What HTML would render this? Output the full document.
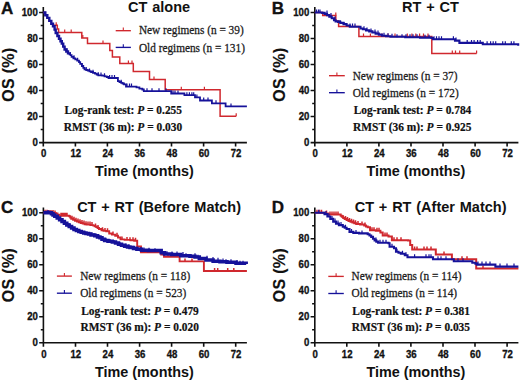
<!DOCTYPE html>
<html><head><meta charset="utf-8"><style>
html,body{margin:0;padding:0;background:#fff;width:520px;height:381px;overflow:hidden}
svg{display:block}
text{font-family:"Liberation Sans",sans-serif;fill:#111}
.tl{font-size:9.6px;font-weight:bold;stroke:#111;stroke-width:0.3px}
.at{font-size:14.4px;font-weight:bold}
.ot{font-size:16px;font-weight:bold;letter-spacing:0.3px;stroke:#111;stroke-width:0.15px}
.pl{font-size:17px;font-weight:bold;stroke:#111;stroke-width:0.35px}
.ti{font-weight:bold;word-spacing:0.8px}
.lg{font-family:"Liberation Serif",serif;font-size:11.3px;fill:#1a1a1a;stroke:#1a1a1a;stroke-width:0.25px}
.st{font-family:"Liberation Serif",serif;font-size:11.4px;font-weight:bold;stroke:#111;stroke-width:0.2px}
</style></head><body>
<svg width="520" height="381" viewBox="0 0 520 381">
<rect width="520" height="381" fill="#fff"/>
<path d="M43.3 7.1 V146.6 M42.6 142.6 H246.9 M39.1 142.6 H43.3 M40.7 129.5 H43.3 M39.1 116.5 H43.3 M40.7 103.5 H43.3 M39.1 90.5 H43.3 M40.7 77.5 H43.3 M39.1 64.5 H43.3 M40.7 51.5 H43.3 M39.1 38.5 H43.3 M40.7 25.5 H43.3 M39.1 12.5 H43.3 M75.4 142.6 V146.6 M107.4 142.6 V146.6 M139.5 142.6 V146.6 M171.5 142.6 V146.6 M203.6 142.6 V146.6 M235.6 142.6 V146.6" stroke="#111" stroke-width="1.6" fill="none"/>
<text transform="translate(37.80 145.80) scale(1 1.080)" class="tl" text-anchor="end">0</text>
<text transform="translate(37.80 119.79) scale(1 1.080)" class="tl" text-anchor="end">20</text>
<text transform="translate(37.80 93.78) scale(1 1.080)" class="tl" text-anchor="end">40</text>
<text transform="translate(37.80 67.77) scale(1 1.080)" class="tl" text-anchor="end">60</text>
<text transform="translate(37.80 41.76) scale(1 1.080)" class="tl" text-anchor="end">80</text>
<text transform="translate(37.80 15.75) scale(1 1.080)" class="tl" text-anchor="end">100</text>
<text transform="translate(43.70 157.45) scale(1 1.080)" class="tl" text-anchor="middle">0</text>
<text transform="translate(75.75 157.45) scale(1 1.080)" class="tl" text-anchor="middle">12</text>
<text transform="translate(107.80 157.45) scale(1 1.080)" class="tl" text-anchor="middle">24</text>
<text transform="translate(139.86 157.45) scale(1 1.080)" class="tl" text-anchor="middle">36</text>
<text transform="translate(171.91 157.45) scale(1 1.080)" class="tl" text-anchor="middle">48</text>
<text transform="translate(203.96 157.45) scale(1 1.080)" class="tl" text-anchor="middle">60</text>
<text transform="translate(236.01 157.45) scale(1 1.080)" class="tl" text-anchor="middle">72</text>
<text x="144.4" y="175.9" class="at" text-anchor="middle">Time (months)</text>
<text class="ot" text-anchor="middle" transform="translate(13.5 74.6) rotate(-90)">OS (%)</text>
<text transform="translate(0.90 13.80) scale(1 1.020)" class="pl">A</text>
<text x="159.1" y="11.5" class="ti" text-anchor="middle" font-size="14.50">CT alone</text>
<path d="M43.3 12.5H45.3 V15.2H47.3 V17.9H49.3 V20.9H51.3 V23.7H53.0 V25.3H56.9 V25.3H57.3 V29.0H58.6 V32.5H81.8 V38.0H87.5 V43.6H109.8 V50.6H112.4 V57.0H119.8 V63.4H133.3 V71.6H149.5 V79.4H165.2 V89.7H220.1 V116.2H236.2 V116.2" stroke="#d0282e" stroke-width="1.50" fill="none" stroke-linejoin="miter"/>
<path d="M56.2 25.3 V22.3 M82.8 38.0 V35.0 M64.7 32.5 V29.5 M71.2 32.5 V29.5 M103.0 43.6 V40.6 M128.4 63.4 V60.4 M132.0 63.4 V60.4 M154.0 79.4 V76.4 M181.3 89.7 V86.7 M204.4 89.7 V86.7 M236.2 116.2 V113.2 " stroke="#d0282e" stroke-width="1.20" fill="none"/>
<path d="M43.3 12.5H45.3 V15.2H47.3 V17.9H49.3 V20.9H51.3 V23.7H53.0 V26.2H54.6 V29.6H55.7 V33.0H57.4 V36.0H59.0 V38.8H60.5 V41.2H61.8 V43.6H63.2 V46.6H64.6 V49.5H66.3 V51.5H68.0 V53.4H69.8 V55.2" stroke="#16129a" stroke-width="2.40" fill="none" stroke-linejoin="miter"/>
<path d="M69.8 55.2H71.6 V56.8H73.4 V58.3H75.3 V59.4H77.2 V60.7H79.0 V62.2H80.2 V63.9H81.9 V66.0H83.3 V67.8H84.5 V69.4H86.2 V70.0H87.8 V70.7H89.5 V71.4H91.1 V72.0H93.0 V72.8H95.0 V73.7H96.7 V74.5H98.3 V75.3H102.2 V75.6H104.5 V76.3H106.8 V77.0H108.5 V78.0H117.4 V78.0H117.9 V81.2H119.5 V82.0H121.2 V82.8H122.6 V83.5H124.0 V84.3H126.0 V86.6H133.7 V86.6H136.5 V87.3H139.4 V88.6H142.3 V89.5H143.8 V91.2H171.2 V91.2H171.2 V93.5H184.4 V93.5H184.4 V95.2H195.0 V95.2H195.0 V97.4H200.0 V97.4H200.0 V100.5H211.9 V100.5H211.9 V103.3H225.6 V103.3H225.6 V106.4H246.9 V106.4" stroke="#16129a" stroke-width="1.80" fill="none" stroke-linejoin="miter"/>
<path d="M67.0 51.3 V48.3 M70.4 55.2 V52.2 M74.0 58.3 V55.3 M77.6 60.7 V57.7 M81.9 66.0 V63.0 M86.2 70.0 V67.0 M89.5 71.4 V68.4 M93.0 72.8 V69.8 M98.3 75.3 V72.3 M101.0 75.6 V72.6 M104.5 76.3 V73.3 M109.6 78.0 V75.0 M112.0 78.0 V75.0 M114.5 78.0 V75.0 M121.2 82.8 V79.8 M127.0 86.6 V83.6 M129.5 86.6 V83.6 M131.5 86.6 V83.6 M147.0 91.2 V88.2 M152.0 91.2 V88.2 M159.0 91.2 V88.2 M166.0 91.2 V88.2 M173.0 93.5 V90.5 M175.0 93.5 V90.5 M178.0 93.5 V90.5 M186.9 95.2 V92.2 M189.4 95.2 V92.2 M191.9 95.2 V92.2 M193.7 95.2 V92.2 M196.9 97.4 V94.4 M203.7 100.5 V97.5 M208.0 100.5 V97.5 M216.0 103.3 V100.3 M231.0 106.4 V103.4 " stroke="#16129a" stroke-width="1.20" fill="none"/>
<path d="M115.7 30.7 H130.9" stroke="#d0282e" stroke-width="1.35" fill="none"/><path d="M123.3 30.7 V27.5" stroke="#d0282e" stroke-width="1.1" fill="none"/>
<text transform="translate(138.90 34.40) scale(1 1.060)" class="lg">New regimens (n = 39)</text>
<path d="M115.7 47.4 H130.9" stroke="#16129a" stroke-width="1.35" fill="none"/><path d="M123.3 47.4 V44.2" stroke="#16129a" stroke-width="1.1" fill="none"/>
<text transform="translate(138.90 51.50) scale(1 1.060)" class="lg">Old regimens (n = 131)</text>
<text transform="translate(64.40 113.75) scale(1 1.070)" class="st">Log-rank test: <tspan font-style="italic">P</tspan> = 0.255</text>
<text transform="translate(63.80 130.60) scale(1 1.070)" class="st">RMST (36 m): <tspan font-style="italic">P</tspan> = 0.030</text>
<path d="M314.8 7.1 V146.6 M314.1 142.6 H518.4 M310.6 142.6 H314.8 M312.2 129.5 H314.8 M310.6 116.5 H314.8 M312.2 103.5 H314.8 M310.6 90.5 H314.8 M312.2 77.5 H314.8 M310.6 64.5 H314.8 M312.2 51.5 H314.8 M310.6 38.5 H314.8 M312.2 25.5 H314.8 M310.6 12.5 H314.8 M346.9 142.6 V146.6 M378.9 142.6 V146.6 M411.0 142.6 V146.6 M443.0 142.6 V146.6 M475.1 142.6 V146.6 M507.1 142.6 V146.6" stroke="#111" stroke-width="1.6" fill="none"/>
<text transform="translate(309.30 145.80) scale(1 1.080)" class="tl" text-anchor="end">0</text>
<text transform="translate(309.30 119.79) scale(1 1.080)" class="tl" text-anchor="end">20</text>
<text transform="translate(309.30 93.78) scale(1 1.080)" class="tl" text-anchor="end">40</text>
<text transform="translate(309.30 67.77) scale(1 1.080)" class="tl" text-anchor="end">60</text>
<text transform="translate(309.30 41.76) scale(1 1.080)" class="tl" text-anchor="end">80</text>
<text transform="translate(309.30 15.75) scale(1 1.080)" class="tl" text-anchor="end">100</text>
<text transform="translate(315.20 157.45) scale(1 1.080)" class="tl" text-anchor="middle">0</text>
<text transform="translate(347.25 157.45) scale(1 1.080)" class="tl" text-anchor="middle">12</text>
<text transform="translate(379.30 157.45) scale(1 1.080)" class="tl" text-anchor="middle">24</text>
<text transform="translate(411.36 157.45) scale(1 1.080)" class="tl" text-anchor="middle">36</text>
<text transform="translate(443.41 157.45) scale(1 1.080)" class="tl" text-anchor="middle">48</text>
<text transform="translate(475.46 157.45) scale(1 1.080)" class="tl" text-anchor="middle">60</text>
<text transform="translate(507.51 157.45) scale(1 1.080)" class="tl" text-anchor="middle">72</text>
<text x="415.9" y="175.9" class="at" text-anchor="middle">Time (months)</text>
<text class="ot" text-anchor="middle" transform="translate(285.0 74.6) rotate(-90)">OS (%)</text>
<text transform="translate(271.80 13.80) scale(1 1.020)" class="pl">B</text>
<text x="430.4" y="12.0" class="ti" text-anchor="middle" font-size="14.50">RT + CT</text>
<path d="M314.8 12.5H322.7 V15.6H335.8 V21.0H338.6 V26.4H358.9 V36.4H431.8 V53.4H476.6 V53.4" stroke="#d0282e" stroke-width="1.50" fill="none" stroke-linejoin="miter"/>
<path d="M335.8 15.6 V12.6 M363.5 36.5 V33.5 M370.4 36.5 V33.5 M381.9 36.5 V33.5 M388.0 36.5 V33.5 M395.0 36.5 V33.5 M407.3 36.5 V33.5 M411.9 36.5 V33.5 M415.8 36.5 V33.5 M419.6 36.5 V33.5 M423.5 36.5 V33.5 M428.0 36.5 V33.5 M452.3 53.4 V50.4 M455.5 53.4 V50.4 M459.7 53.4 V50.4 M476.6 53.4 V50.4 " stroke="#d0282e" stroke-width="1.20" fill="none"/>
<path d="M314.8 12.5H319.9 V12.5H322.2 V12.9H324.6 V13.9H327.0 V15.1H329.3 V16.6H331.7 V18.2H334.0 V20.2H335.6 V21.4H338.0 V21.9H340.3 V22.9H343.5 V24.1H346.6 V25.5H349.8 V26.7H358.4 V26.7H360.5 V28.5H362.9 V29.3H366.0 V30.4H369.2 V31.4H372.4 V32.5H375.6 V33.6H378.8 V34.6H381.9 V35.7H386.0 V36.3H390.4 V36.7H405.2 V37.2H420.0 V37.6H431.5 V38.0H433.0 V39.2H453.4 V39.2H455.0 V40.6H459.4 V42.9H482.8 V42.9H482.8 V44.3H516.5 V44.3H518.2 V45.8" stroke="#16129a" stroke-width="2.10" fill="none" stroke-linejoin="miter"/>
<path d="M316.5 12.5 V9.5 M318.5 12.5 V9.5 M320.0 12.5 V9.5 M327.0 13.6 V10.6 M331.0 16.0 V13.0 M335.0 19.5 V16.5 M340.0 23.0 V20.0 M344.0 25.1 V22.1 M350.0 26.4 V23.4 M352.5 26.4 V23.4 M355.0 26.4 V23.4 M364.0 29.3 V26.3 M367.0 30.4 V27.4 M371.0 31.4 V28.4 M375.0 32.5 V29.5 M378.0 33.6 V30.6 M384.0 35.7 V32.7 M388.0 36.3 V33.3 M392.0 36.7 V33.7 M397.0 37.2 V34.2 M402.0 37.2 V34.2 M406.0 37.2 V34.2 M410.0 37.2 V34.2 M413.0 37.2 V34.2 M417.0 37.2 V34.2 M425.0 37.8 V34.8 M429.0 37.8 V34.8 M434.0 39.2 V36.2 M436.5 39.2 V36.2 M439.0 39.2 V36.2 M441.5 39.2 V36.2 M453.4 39.2 V36.2 M456.0 40.6 V37.6 M467.2 42.9 V39.9 M471.5 42.9 V39.9 M474.1 42.9 V39.9 M477.6 42.9 V39.9 M480.2 42.9 V39.9 M487.1 44.3 V41.3 M490.6 44.3 V41.3 M493.2 44.3 V41.3 M495.7 44.3 V41.3 M502.7 44.3 V41.3 M505.3 44.3 V41.3 M511.3 44.3 V41.3 M513.9 44.3 V41.3 " stroke="#16129a" stroke-width="1.20" fill="none"/>
<path d="M329.0 75.7 H344.8" stroke="#d0282e" stroke-width="1.35" fill="none"/><path d="M336.9 75.7 V72.5" stroke="#d0282e" stroke-width="1.1" fill="none"/>
<text transform="translate(352.70 80.20) scale(1 1.060)" class="lg">New regimens (n = 37)</text>
<path d="M329.0 92.7 H344.8" stroke="#16129a" stroke-width="1.35" fill="none"/><path d="M336.9 92.7 V89.5" stroke="#16129a" stroke-width="1.1" fill="none"/>
<text transform="translate(352.70 97.20) scale(1 1.060)" class="lg">Old regimens (n = 172)</text>
<text transform="translate(353.70 114.40) scale(1 1.070)" class="st">Log-rank test: <tspan font-style="italic">P</tspan> = 0.784</text>
<text transform="translate(353.10 131.00) scale(1 1.070)" class="st">RMST (36 m): <tspan font-style="italic">P</tspan> = 0.925</text>
<path d="M43.4 207.4 V346.8 M42.7 342.8 H246.9 M39.2 342.8 H43.4 M40.8 329.7 H43.4 M39.2 316.7 H43.4 M40.8 303.7 H43.4 M39.2 290.7 H43.4 M40.8 277.7 H43.4 M39.2 264.7 H43.4 M40.8 251.7 H43.4 M39.2 238.7 H43.4 M40.8 225.7 H43.4 M39.2 212.7 H43.4 M75.5 342.8 V346.8 M107.5 342.8 V346.8 M139.6 342.8 V346.8 M171.6 342.8 V346.8 M203.7 342.8 V346.8 M235.7 342.8 V346.8" stroke="#111" stroke-width="1.6" fill="none"/>
<text transform="translate(37.90 346.00) scale(1 1.080)" class="tl" text-anchor="end">0</text>
<text transform="translate(37.90 319.99) scale(1 1.080)" class="tl" text-anchor="end">20</text>
<text transform="translate(37.90 293.98) scale(1 1.080)" class="tl" text-anchor="end">40</text>
<text transform="translate(37.90 267.97) scale(1 1.080)" class="tl" text-anchor="end">60</text>
<text transform="translate(37.90 241.96) scale(1 1.080)" class="tl" text-anchor="end">80</text>
<text transform="translate(37.90 215.95) scale(1 1.080)" class="tl" text-anchor="end">100</text>
<text transform="translate(43.80 357.65) scale(1 1.080)" class="tl" text-anchor="middle">0</text>
<text transform="translate(75.85 357.65) scale(1 1.080)" class="tl" text-anchor="middle">12</text>
<text transform="translate(107.90 357.65) scale(1 1.080)" class="tl" text-anchor="middle">24</text>
<text transform="translate(139.96 357.65) scale(1 1.080)" class="tl" text-anchor="middle">36</text>
<text transform="translate(172.01 357.65) scale(1 1.080)" class="tl" text-anchor="middle">48</text>
<text transform="translate(204.06 357.65) scale(1 1.080)" class="tl" text-anchor="middle">60</text>
<text transform="translate(236.11 357.65) scale(1 1.080)" class="tl" text-anchor="middle">72</text>
<text x="144.4" y="376.5" class="at" text-anchor="middle">Time (months)</text>
<text class="ot" text-anchor="middle" transform="translate(13.5 275.0) rotate(-90)">OS (%)</text>
<text transform="translate(1.00 213.00) scale(1 1.020)" class="pl">C</text>
<text x="159.1" y="211.6" class="ti" text-anchor="middle" font-size="14.50">CT + RT (Before Match)</text>
<path d="M43.4 212.7H47.0 V212.7H51.9 V212.9H55.8 V213.4H57.5 V214.8H59.2 V215.8H69.2 V216.3H70.2 V217.6H71.2 V218.7H73.1 V219.8H75.0 V220.7H76.9 V221.5H78.8 V222.2H80.7 V223.0H82.7 V223.6H84.6 V224.2H86.5 V224.6H90.4 V225.1H93.3 V225.6H94.7 V226.4H96.2 V227.1H97.6 V228.0H99.0 V229.0H101.5 V230.3H103.5 V230.9H106.2 V231.3H109.2 V233.5H112.0 V234.6H115.2 V235.8H118.0 V237.5H120.5 V239.4H124.6 V239.9H130.4 V240.2H134.2 V240.7H137.2 V240.7H137.2 V246.5H141.0 V252.4H161.2 V252.4H161.2 V254.5H164.0 V256.8H179.6 V256.8H179.6 V261.4H203.9 V261.4H203.9 V271.0H246.9 V271.0" stroke="#d0282e" stroke-width="1.90" fill="none" stroke-linejoin="miter"/>
<path d="M45.0 212.7 V209.7 M47.0 212.7 V209.7 M49.0 212.9 V209.9 M51.0 212.9 V209.9 M53.0 212.9 V209.9 M55.0 213.4 V210.4 M61.0 215.8 V212.8 M62.5 215.8 V212.8 M64.0 215.8 V212.8 M65.5 215.8 V212.8 M67.0 215.8 V212.8 M72.0 218.7 V215.7 M74.0 219.8 V216.8 M76.0 220.7 V217.7 M78.0 221.5 V218.5 M80.0 222.2 V219.2 M82.0 223.0 V220.0 M84.0 223.6 V220.6 M86.0 224.2 V221.2 M88.0 224.6 V221.6 M90.0 224.6 V221.6 M92.0 225.1 V222.1 M95.5 226.4 V223.4 M98.0 228.0 V225.0 M102.5 230.3 V227.3 M105.0 230.9 V227.9 M107.5 231.3 V228.3 M113.0 234.6 V231.6 M117.0 235.8 V232.8 M122.0 239.4 V236.4 M127.0 239.9 V236.9 M130.0 240.2 V237.2 M133.0 240.2 V237.2 M135.5 240.7 V237.7 M146.0 252.4 V249.4 M150.0 252.4 V249.4 M155.0 252.4 V249.4 M168.0 256.8 V253.8 M172.0 256.8 V253.8 M176.0 256.8 V253.8 M185.0 261.4 V258.4 M192.0 261.4 V258.4 M214.6 271.0 V268.0 M217.7 271.0 V268.0 M227.7 271.0 V268.0 M233.8 271.0 V268.0 " stroke="#d0282e" stroke-width="1.50" fill="none"/>
<path d="M43.4 212.7H46.5 V212.5H49.0 V212.8H51.5 V213.8H53.0 V215.0H54.8 V216.3H57.2 V218.1H59.6 V219.8H62.0 V221.6H64.4 V223.2H66.8 V225.0H69.2 V226.5H71.6 V228.1H74.0 V229.4H76.4 V230.5H78.8 V231.4H81.2 V232.2H83.7 V232.9H86.0 V233.4H88.5 V233.9H91.0 V234.9H94.8 V235.7H97.5 V237.1H100.0 V237.8H102.0 V239.2H104.6 V240.4H108.0 V241.2H112.3 V241.9H115.5 V243.0H118.5 V244.2H121.5 V245.3H124.6 V246.3H127.5 V247.0H130.0 V247.6H133.5 V248.4H136.9 V249.3H141.5 V250.2H148.5 V250.5H158.8 V250.5H161.2 V252.8H164.6 V253.9H171.5 V254.5H180.8 V255.7H190.0 V256.2H195.0 V257.0H199.3 V258.6H206.0 V260.1H213.1 V261.2H220.0 V261.8H227.0 V262.3H236.0 V263.2H246.2 V264.0" stroke="#16129a" stroke-width="3.50" fill="none" stroke-linejoin="miter"/>
<path d="M48.0 213.0 V210.0 M52.0 213.9 V210.9 M57.0 219.0 V216.0 M61.0 220.9 V217.9 M65.0 223.5 V220.5 M69.0 226.0 V223.0 M73.0 229.9 V226.9 M76.0 231.0 V228.0 M79.0 232.4 V229.4 M82.0 233.9 V230.9 M85.0 234.6 V231.6 M88.0 235.3 V232.3 M91.0 235.6 V232.6 M94.0 236.0 V233.0 M99.0 237.8 V234.8 M106.0 241.2 V238.2 M110.0 241.9 V238.9 M114.0 243.0 V240.0 M120.0 245.3 V242.3 M126.0 246.5 V243.5 M129.0 247.3 V244.3 M133.0 248.8 V245.8 M137.0 249.6 V246.6 M141.0 250.0 V247.0 M144.0 250.4 V247.4 M149.0 250.8 V247.8 M155.0 251.2 V248.2 M167.0 254.2 V251.2 M172.0 254.6 V251.6 M177.0 254.6 V251.6 M183.0 255.0 V252.0 M186.0 256.2 V253.2 M195.0 256.2 V253.2 M198.0 257.7 V254.7 M207.0 258.7 V255.7 M213.0 260.0 V257.0 M218.0 260.7 V257.7 M223.0 261.5 V258.5 M226.0 262.3 V259.3 M231.0 262.3 V259.3 M237.0 263.1 V260.1 M240.0 263.8 V260.8 M243.0 263.8 V260.8 " stroke="#16129a" stroke-width="1.20" fill="none"/>
<path d="M56.9 276.1 H71.9" stroke="#d0282e" stroke-width="1.35" fill="none"/><path d="M64.4 276.1 V272.9" stroke="#d0282e" stroke-width="1.1" fill="none"/>
<text transform="translate(80.20 279.70) scale(1 1.060)" class="lg">New regimens (n = 118)</text>
<path d="M56.9 293.2 H71.9" stroke="#16129a" stroke-width="1.35" fill="none"/><path d="M64.4 293.2 V290.0" stroke="#16129a" stroke-width="1.1" fill="none"/>
<text transform="translate(80.20 296.80) scale(1 1.060)" class="lg">Old regimens (n = 523)</text>
<text transform="translate(81.20 314.60) scale(1 1.070)" class="st">Log-rank test: <tspan font-style="italic">P</tspan> = 0.479</text>
<text transform="translate(80.60 331.20) scale(1 1.070)" class="st">RMST (36 m): <tspan font-style="italic">P</tspan> = 0.020</text>
<path d="M314.8 207.4 V346.8 M314.1 342.8 H518.4 M310.6 342.8 H314.8 M312.1 329.8 H314.8 M310.6 316.8 H314.8 M312.1 303.8 H314.8 M310.6 290.8 H314.8 M312.1 277.8 H314.8 M310.6 264.7 H314.8 M312.1 251.7 H314.8 M310.6 238.7 H314.8 M312.1 225.7 H314.8 M310.6 212.7 H314.8 M346.8 342.8 V346.8 M378.9 342.8 V346.8 M410.9 342.8 V346.8 M443.0 342.8 V346.8 M475.0 342.8 V346.8 M507.1 342.8 V346.8" stroke="#111" stroke-width="1.6" fill="none"/>
<text transform="translate(309.25 346.05) scale(1 1.080)" class="tl" text-anchor="end">0</text>
<text transform="translate(309.25 320.03) scale(1 1.080)" class="tl" text-anchor="end">20</text>
<text transform="translate(309.25 294.01) scale(1 1.080)" class="tl" text-anchor="end">40</text>
<text transform="translate(309.25 267.99) scale(1 1.080)" class="tl" text-anchor="end">60</text>
<text transform="translate(309.25 241.97) scale(1 1.080)" class="tl" text-anchor="end">80</text>
<text transform="translate(309.25 215.95) scale(1 1.080)" class="tl" text-anchor="end">100</text>
<text transform="translate(315.15 357.70) scale(1 1.080)" class="tl" text-anchor="middle">0</text>
<text transform="translate(347.20 357.70) scale(1 1.080)" class="tl" text-anchor="middle">12</text>
<text transform="translate(379.25 357.70) scale(1 1.080)" class="tl" text-anchor="middle">24</text>
<text transform="translate(411.31 357.70) scale(1 1.080)" class="tl" text-anchor="middle">36</text>
<text transform="translate(443.36 357.70) scale(1 1.080)" class="tl" text-anchor="middle">48</text>
<text transform="translate(475.41 357.70) scale(1 1.080)" class="tl" text-anchor="middle">60</text>
<text transform="translate(507.46 357.70) scale(1 1.080)" class="tl" text-anchor="middle">72</text>
<text x="415.9" y="376.5" class="at" text-anchor="middle">Time (months)</text>
<text class="ot" text-anchor="middle" transform="translate(285.0 275.1) rotate(-90)">OS (%)</text>
<text transform="translate(271.80 213.00) scale(1 1.020)" class="pl">D</text>
<text x="430.6" y="211.6" class="ti" text-anchor="middle" font-size="14.50">CT + RT (After Match)</text>
<path d="M314.8 212.7H322.0 V212.7H325.0 V213.5H328.0 V214.4H339.5 V214.6H340.7 V215.7H341.8 V216.8H343.2 V217.9H344.7 V219.0H346.6 V220.0H348.5 V221.0H350.5 V221.8H352.4 V222.6H354.3 V223.3H356.2 V224.0H360.1 V224.6H364.2 V225.6H366.0 V226.5H367.7 V227.3H370.0 V230.2H375.8 V230.8H380.4 V232.5H382.7 V235.4H388.5 V236.5H391.9 V240.2H408.0 V240.6H410.2 V245.1H412.2 V249.5H435.8 V249.5H435.8 V254.5H451.9 V254.5H451.9 V259.2H475.4 V259.2H476.2 V268.5H518.4 V268.5" stroke="#d0282e" stroke-width="2.00" fill="none" stroke-linejoin="miter"/>
<path d="M317.0 212.7 V209.7 M319.5 212.7 V209.7 M321.5 212.7 V209.7 M326.5 213.5 V210.5 M330.0 214.4 V211.4 M332.0 214.4 V211.4 M334.0 214.6 V211.6 M336.0 214.6 V211.6 M338.0 214.6 V211.6 M343.0 217.9 V214.9 M345.5 219.0 V216.0 M347.5 220.0 V217.0 M349.5 221.0 V218.0 M351.5 221.8 V218.8 M353.5 222.6 V219.6 M355.5 223.3 V220.3 M358.0 224.0 V221.0 M362.0 224.6 V221.6 M365.0 225.6 V222.6 M372.0 230.2 V227.2 M374.0 230.2 V227.2 M377.0 230.8 V227.8 M379.0 230.8 V227.8 M385.0 235.4 V232.4 M387.0 235.4 V232.4 M394.0 240.2 V237.2 M397.0 240.2 V237.2 M401.0 240.2 V237.2 M414.6 249.5 V246.5 M417.0 249.5 V246.5 M424.0 249.5 V246.5 M427.0 249.5 V246.5 M431.0 249.5 V246.5 M444.0 254.5 V251.5 M462.0 259.2 V256.2 M467.0 259.2 V256.2 M483.0 268.5 V265.5 " stroke="#d0282e" stroke-width="1.50" fill="none"/>
<path d="M314.8 212.7H321.6 V212.7H324.5 V214.1H327.4 V216.5H330.3 V218.9H333.2 V221.6H336.0 V223.6H338.9 V225.1H342.8 V226.6H344.7 V227.7H346.6 V229.0H349.5 V231.9H353.3 V232.9H359.1 V233.4H366.5 V233.4H367.7 V234.2H369.5 V235.5H371.2 V236.9H373.0 V238.7H374.6 V240.4H376.3 V241.6H378.1 V242.7H388.5 V243.3H389.6 V246.7H394.0 V248.3H396.0 V251.8H398.5 V252.8H400.8 V253.8H404.8 V255.2H407.5 V257.2H433.0 V257.2H433.0 V259.2H453.3 V259.2H453.8 V261.2H470.8 V261.2H472.3 V262.8H475.4 V263.6H476.9 V264.6H493.8 V264.6H495.4 V266.6H518.4 V266.6" stroke="#16129a" stroke-width="2.10" fill="none" stroke-linejoin="miter"/>
<path d="M318.7 212.7 V209.7 M326.0 214.1 V211.1 M329.0 216.5 V213.5 M332.0 218.9 V215.9 M335.0 221.6 V218.6 M338.0 223.6 V220.6 M341.0 225.1 V222.1 M345.5 227.7 V224.7 M351.5 231.9 V228.9 M356.0 232.9 V229.9 M362.0 233.4 V230.4 M376.0 240.4 V237.4 M380.0 242.7 V239.7 M383.0 242.7 V239.7 M386.0 242.7 V239.7 M392.0 246.7 V243.7 M397.0 251.8 V248.8 M402.5 253.8 V250.8 M406.0 255.2 V252.2 M414.6 257.2 V254.2 M426.0 257.2 V254.2 M429.0 257.2 V254.2 M431.0 257.2 V254.2 M438.0 259.2 V256.2 M441.0 259.2 V256.2 M446.0 259.2 V256.2 M458.0 261.2 V258.2 M463.0 261.2 V258.2 M478.0 264.6 V261.6 M482.0 264.6 V261.6 M486.0 264.6 V261.6 M490.0 264.6 V261.6 M500.0 266.6 V263.6 M507.0 266.6 V263.6 M514.0 266.6 V263.6 " stroke="#16129a" stroke-width="1.20" fill="none"/>
<path d="M328.3 276.4 H343.8" stroke="#d0282e" stroke-width="1.35" fill="none"/><path d="M336.1 276.4 V273.2" stroke="#d0282e" stroke-width="1.1" fill="none"/>
<text transform="translate(351.50 280.20) scale(1 1.060)" class="lg">New regimens (n = 114)</text>
<path d="M328.3 293.5 H343.8" stroke="#16129a" stroke-width="1.35" fill="none"/><path d="M336.1 293.5 V290.3" stroke="#16129a" stroke-width="1.1" fill="none"/>
<text transform="translate(351.50 297.30) scale(1 1.060)" class="lg">Old regimens (n = 114)</text>
<text transform="translate(352.30 314.60) scale(1 1.070)" class="st">Log-rank test: <tspan font-style="italic">P</tspan> = 0.381</text>
<text transform="translate(351.70 331.20) scale(1 1.070)" class="st">RMST (36 m): <tspan font-style="italic">P</tspan> = 0.035</text>
</svg>
</body></html>
